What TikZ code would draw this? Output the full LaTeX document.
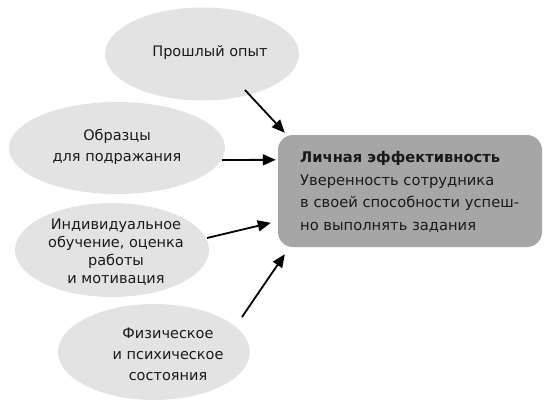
\documentclass[tikz,border=0pt]{standalone}
\usepackage{fontspec}
\setmainfont{DejaVu Sans}
\usetikzlibrary{shapes.geometric,arrows.meta,calc}
\definecolor{ellfill}{HTML}{E3E3E3}
\definecolor{boxfill}{HTML}{A6A6A6}
\definecolor{ink}{HTML}{1A1A1A}
\tikzset{
  ell/.style={ellipse, fill=ellfill, draw=none, inner sep=0pt},
  lbl/.style={align=center, text=ink, font=\fontsize{14.5}{19}\selectfont, inner sep=0pt},
  arr/.style={draw=black, line width=1.8pt, -{Triangle[length=13pt,width=11pt]}},
}
\begin{document}
\begin{tikzpicture}[x=1pt,y=-1pt]
\useasboundingbox (0,0) rectangle (554,402);
% ellipses
\node[ell, minimum width=194pt, minimum height=93pt] (e1) at (202,54) {};
\node[ell, minimum width=216pt, minimum height=92pt] (e2) at (117,148) {};
\node[ell, minimum width=194pt, minimum height=94pt] (e3) at (112,250) {};
\node[ell, minimum width=192pt, minimum height=96pt] (e4) at (154,352) {};
% texts
\node[lbl] (t1) at (210,52) {Прошлый опыт};
\node[lbl, font=\fontsize{14.5}{21}\selectfont] (t2) at (117,147) {Образцы\\для подражания};
\node[lbl, font=\fontsize{14.5}{18}\selectfont] (t3) at (116,252) {Индивидуальное\\обучение, оценка\\работы\\и мотивация};
\node[lbl, font=\fontsize{14.5}{21}\selectfont] (t4) at (168,354) {Физическое\\и психическое\\состояния};
% box
\node[fill=boxfill, rounded corners=15pt, minimum width=264pt, minimum height=112pt, inner sep=0pt] (box) at (410,191) {};
\node[anchor=west, align=left, text=ink, font=\fontsize{14.7}{22.7}\selectfont, inner sep=0pt] (bt) at (300,192)
  {\textbf{Личная эффективность}\\Уверенность сотрудника\\в своей способности успеш-\\но выполнять задания};
% arrows
\coordinate (a1s) at ($(e1.center)+(43,36)$);
\coordinate (a1e) at ($(box.north west)+(7,-2)$);
\coordinate (a2s) at ($(e2.center)+(105,12)$);
\coordinate (a2e) at ($(box.north west)+(-2,25)$);
\coordinate (a3s) at ($(e3.center)+(95,-12)$);
\coordinate (a3e) at ($(box.north west)+(-7,88)$);
\coordinate (a4s) at ($(e4.center)+(88,-35)$);
\coordinate (a4e) at ($(box.south west)+(7,7)$);
\draw[arr] (a1s) -- (a1e);
\draw[arr] (a2s) -- (a2e);
\draw[arr] (a3s) -- (a3e);
\draw[arr] (a4s) -- (a4e);
\end{tikzpicture}
\end{document}
